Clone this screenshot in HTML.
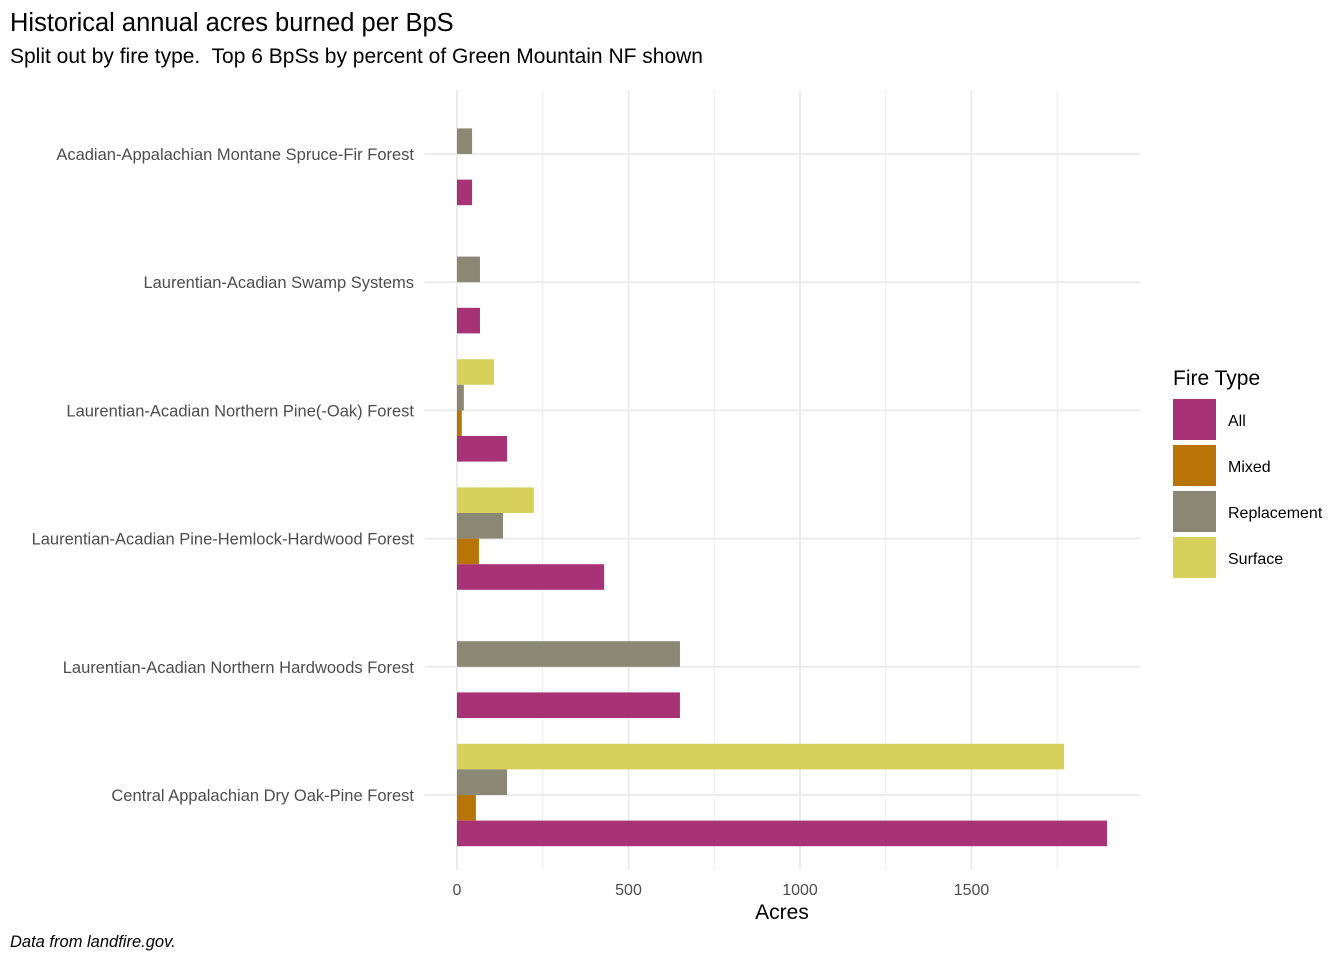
<!DOCTYPE html>
<html><head><meta charset="utf-8"><style>
body{margin:0;background:#fff;font-family:"Liberation Sans",Arial,sans-serif}
</style></head><body>
<svg width="1344" height="960" xmlns="http://www.w3.org/2000/svg" font-family="Liberation Sans, Arial, sans-serif">
<rect width="1344" height="960" fill="#fff"/>
<text x="10" y="31" font-size="25.5" fill="#000">Historical annual acres burned per BpS</text>
<text x="10" y="63" font-size="21" fill="#000">Split out by fire type.&#160; Top 6 BpSs by percent of Green Mountain NF shown</text>
<g id="grid"></g>
<g id="bars"></g>
<g id="ylabels"></g>
<g id="xlabels"></g>
<text x="782" y="919" font-size="21" text-anchor="middle" fill="#000">Acres</text>
<text x="10" y="947" font-size="16.5" font-style="italic" fill="#000">Data from landfire.gov.</text>
<g id="legend">
<text x="1173" y="385" font-size="21" fill="#000">Fire Type</text>
</g>
</svg>
<script>
const categories=["Acadian-Appalachian Montane Spruce-Fir Forest","Laurentian-Acadian Swamp Systems","Laurentian-Acadian Northern Pine(-Oak) Forest","Laurentian-Acadian Pine-Hemlock-Hardwood Forest","Laurentian-Acadian Northern Hardwoods Forest","Central Appalachian Dry Oak-Pine Forest"];
const fireTypes=["Surface","Replacement","Mixed","All"];
const surfaceVals=[null,null,108,224,null,1770];
const replacementVals=[44,67,20,134,650,146];
const mixedVals=[null,null,14,64,null,55];
const allVals=[44,67,146,429,650,1895];
const xTicks=[0,500,1000,1500];
const xMinor=[250,750,1250,1750];
const colors={All:"#a83276",Mixed:"#b87407",Replacement:"#8a8775",Surface:"#d7d15c"};
const legendOrder=["All","Mixed","Replacement","Surface"];
const NS="http://www.w3.org/2000/svg";
const x0=457,scale=0.343,panelL=424.5,panelR=1140,panelT=90,panelB=870;
const x=v=>x0+v*scale;
const yC=i=>154+i*128.2;
function mk(tag,attrs,parent){const e=document.createElementNS(NS,tag);for(const k in attrs)e.setAttribute(k,attrs[k]);parent.appendChild(e);return e;}
const grid=document.getElementById('grid');
xMinor.forEach(v=>{const l=mk('line',{x1:x(v),x2:x(v),y1:panelT,y2:panelB,stroke:'#ebebeb','stroke-width':1},grid);});
xTicks.forEach(v=>{const l=mk('line',{x1:x(v),x2:x(v),y1:panelT,y2:panelB,stroke:'#ebebeb','stroke-width':2},grid);});
categories.forEach((c,i)=>{const l=mk('line',{x1:panelL,x2:panelR,y1:yC(i),y2:yC(i),stroke:'#ebebeb','stroke-width':2},grid);});
const bars=document.getElementById('bars');
const series={Surface:surfaceVals,Replacement:replacementVals,Mixed:mixedVals,All:allVals};
const slot=25.6;
categories.forEach((c,i)=>{fireTypes.forEach((f,k)=>{const v=series[f][i];if(v==null)return;
const r=mk('rect',{x:x(0),y:yC(i)-2*slot+k*slot,width:v*scale,height:slot,fill:colors[f]},bars);
});});
const yl=document.getElementById('ylabels');
categories.forEach((c,i)=>{const t=mk('text',{x:414,y:yC(i)+6,'font-size':16.5,'text-anchor':'end',fill:'#4d4d4d'},yl);t.textContent=c;});
const xl=document.getElementById('xlabels');
xTicks.forEach(v=>{const t=mk('text',{x:x(v),y:895,'font-size':16,'text-anchor':'middle',fill:'#4d4d4d'},xl);t.textContent=v;});
const lg=document.getElementById('legend');
legendOrder.forEach((f,i)=>{const r=mk('rect',{x:1173,y:399+i*46,width:43,height:41,fill:colors[f]},lg);
const t=mk('text',{x:1228,y:426+i*46,'font-size':16,fill:'#000'},lg);t.textContent=f;});
</script>
</body></html>
